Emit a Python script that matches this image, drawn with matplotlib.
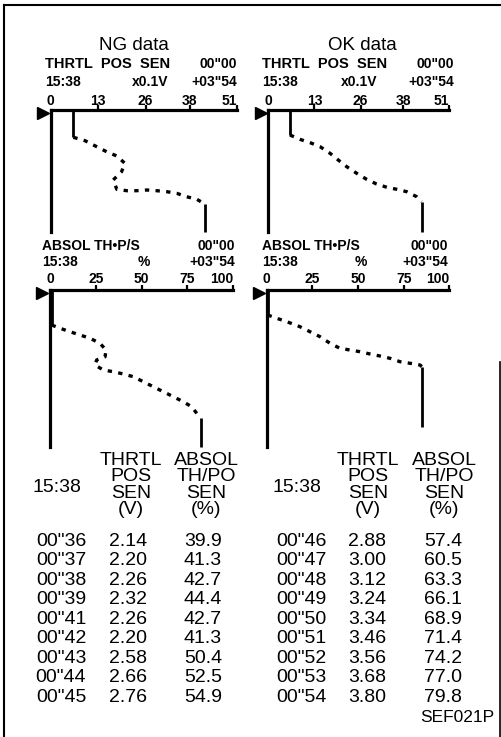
import matplotlib
matplotlib.use('Agg')
import matplotlib.pyplot as plt
from matplotlib.lines import Line2D
from matplotlib.transforms import ScaledTranslation

plt.rcParams['font.family'] = ['Liberation Sans', 'DejaVu Sans']

# ---------------- data ----------------
# trace curves: value on the top scale, time running downward (trace units)
ng_tps_val = [6.2, 6.2, 9.4, 12.6, 15.3, 18.1, 20.3, 19.4, 17.1, 18.1, 20.8, 23.5, 26.3,
              29.0, 31.8, 34.5, 37.2, 40.0, 42.2, 42.2]
ng_tps_t = [0, 27.3, 30.7, 36.7, 41.7, 46, 53.3, 61.7, 70, 79.3, 80.7, 80.7, 80,
            80.7, 81.7, 83.3, 86.7, 89.3, 94, 122]

ok_tps_val = [6.1, 6.1, 8.9, 11.8, 14.6, 17.4, 19.7, 22.1, 24.9, 27.7, 30.5, 33.4, 36.2,
              39.0, 41.8, 43.2, 43.2]
ok_tps_t = [0, 25, 29.3, 32.7, 36.7, 43.3, 50, 56.7, 63.3, 69.3, 74, 77.3, 79.3,
            81.7, 86.7, 91.7, 122]

ng_abs_val = [0.9, 0.9, 5.5, 10.9, 16.4, 21.9, 27.3, 30.6, 30.1, 25.5, 24.6, 29.1, 34.6,
              40.1, 45.5, 51.0, 56.4, 61.9, 67.4, 72.8, 77.4, 82.3, 82.3]
ng_abs_t = [0, 35, 38.3, 41.7, 45, 48.3, 53.3, 60, 66.7, 70, 75, 80, 81.7,
            84, 86.7, 91.7, 96.7, 101.7, 106.7, 111.7, 116.7, 128.3, 157]

ok_abs_val = [0.5, 0.5, 5.5, 11.0, 18.2, 23.7, 29.2, 34.7, 40.1, 45.6, 51.1, 56.6, 62.0,
              67.5, 73.0, 78.5, 84.0, 84.9, 84.9]
ok_abs_t = [0, 25, 28.3, 31.7, 36.7, 41.7, 46.7, 53.3, 58.3, 60, 61.7, 64, 66,
            68.3, 71.7, 73.3, 75, 76.7, 137]

tps_ticks = [0, 13, 26, 38, 51]
abs_ticks = [0, 25, 50, 75, 100]

# table data
ng_time = ['00"36', '00"37', '00"38', '00"39', '00"41', '00"42', '00"43', '00"44', '00"45']
ng_tps = [2.14, 2.20, 2.26, 2.32, 2.26, 2.20, 2.58, 2.66, 2.76]
ng_abs = [39.9, 41.3, 42.7, 44.4, 42.7, 41.3, 50.4, 52.5, 54.9]
ok_time = ['00"46', '00"47', '00"48', '00"49', '00"50', '00"51', '00"52', '00"53', '00"54']
ok_tps = [2.88, 3.00, 3.12, 3.24, 3.34, 3.46, 3.56, 3.68, 3.80]
ok_abs = [57.4, 60.5, 63.3, 66.1, 68.9, 71.4, 74.2, 77.0, 79.8]

# ---------------- figure ----------------
W, H = 502, 737
fig = plt.figure(figsize=(W / 100, H / 100), dpi=100)


def fx(x):
    return x / W


def fy(y):
    return 1 - y / H


def txt(x, y, s, size=10, ha='left', va='center', **kw):
    fig.text(fx(x), fy(y), s, fontsize=size, ha=ha, va=va, **kw)


def panel(left, right, top, bottom, xmax, ticks, vals, ts, pad):
    ax = fig.add_axes([fx(left), fy(bottom), (right - left) / W, (bottom - top) / H])
    ax.set_xlim(0, xmax)
    ax.set_ylim(bottom - top, 0)
    for s in ['right', 'bottom']:
        ax.spines[s].set_visible(False)
    for s in ['top', 'left']:
        ax.spines[s].set_linewidth(2.3)
        ax.spines[s].set_capstyle('projecting')
    ax.xaxis.tick_top()
    ax.set_xticks(ticks)
    ax.set_xticklabels([str(t) for t in ticks], fontweight='bold')
    ax.tick_params(axis='x', direction='out', length=3.6, width=1.6, pad=pad,
                   labelsize=10, colors='black')
    ax.set_yticks([])
    ax.xaxis.get_major_ticks()[0].tick2line.set_visible(False)
    ax.get_xticklabels()[-1].set_horizontalalignment('right')
    ax.patch.set_visible(False)
    # solid lead-in, dotted samples, solid tail
    ax.plot(vals[:2], ts[:2], color='black', lw=2.0, solid_capstyle='butt', clip_on=False)
    ax.plot(vals[1:-1], ts[1:-1], color='black', lw=2.4, linestyle=(0, (1.3, 1.9)),
            dash_capstyle='butt', clip_on=False)
    ax.plot(vals[-2:], ts[-2:], color='black', lw=2.0, solid_capstyle='butt', clip_on=False)
    # start arrow
    tr = ax.transAxes + ScaledTranslation(-7.5 / 100, -2.5 / 100, fig.dpi_scale_trans)
    ax.plot([0], [1], marker='>', ms=8, color='black', transform=tr, clip_on=False)
    return ax


panel(50.7, 237, 110, 232, 51, tps_ticks, ng_tps_val, ng_tps_t, -2.4)
panel(268.3, 449.3, 110, 232, 51, tps_ticks, ok_tps_val, ok_tps_t, -2.4)
panel(50, 233, 290, 447, 100, abs_ticks, ng_abs_val, ng_abs_t, -0.6)
panel(266.7, 449.3, 290, 447, 100, abs_ticks, ok_abs_val, ok_abs_t, -0.6)

# titles
txt(134, 45, 'NG data', size=13.5, ha='center')
txt(362, 45, 'OK data', size=13.5, ha='center')

# panel headers
for (xl, xr, xc, y0, y1, name, nsize, unit) in [
        (45, 237, 150, 64, 82, 'THRTL  POS  SEN', 10.5, 'x0.1V'),
        (262, 454, 359, 64, 82, 'THRTL  POS  SEN', 10.5, 'x0.1V'),
        (42, 235, 144, 246.5, 261.5, 'ABSOL TH•P/S', 10.0, '%'),
        (262, 448, 361, 246.5, 261.5, 'ABSOL TH•P/S', 10.0, '%')]:
    txt(xl, y0, name, size=nsize, fontweight='bold')
    txt(xr, y0, '00"00', ha='right', fontweight='bold')
    txt(xl, y1, '15:38', fontweight='bold')
    txt(xc, y1, unit, ha='center', fontweight='bold')
    txt(xr, y1, '+03"54', ha='right', fontweight='bold')

# tables
for (xt, xtp, xab, xh1, xh2, times, tps, absv) in [
        (61, 128, 203, 131, 206, ng_time, ng_tps, ng_abs),
        (301, 367, 443, 368, 444, ok_time, ok_tps, ok_abs)]:
    txt(xt - 4, 487, '15:38', size=14, ha='center')
    for j, (a, b) in enumerate(zip(['THRTL', 'POS', 'SEN', '(V)'],
                                   ['ABSOL', 'TH/PO', 'SEN', '(%)'])):
        txt(xh1, 460 + 16.5 * j, a, size=14, ha='center')
        txt(xh2, 460 + 16.5 * j, b, size=14, ha='center')
    for i, (t, a, b) in enumerate(zip(times, tps, absv)):
        y = 541 + 19.55 * i
        txt(xt, y, t, size=14, ha='center')
        txt(xtp, y, f'{a:.2f}', size=14, ha='center')
        txt(xab, y, f'{b:.1f}', size=14, ha='center')

txt(494, 718, 'SEF021P', size=12.5, ha='right')

# outer frame
fig.add_artist(Line2D([fx(4), fx(4)], [fy(5), fy(737)], color='black', lw=1.5))
fig.add_artist(Line2D([fx(4), fx(502)], [fy(5), fy(5)], color='black', lw=1.5))
fig.add_artist(Line2D([fx(500.5), fx(500.5)], [fy(362), fy(737)], color='black', lw=1.2))

fig.savefig('out.png', dpi=100, facecolor='white')
